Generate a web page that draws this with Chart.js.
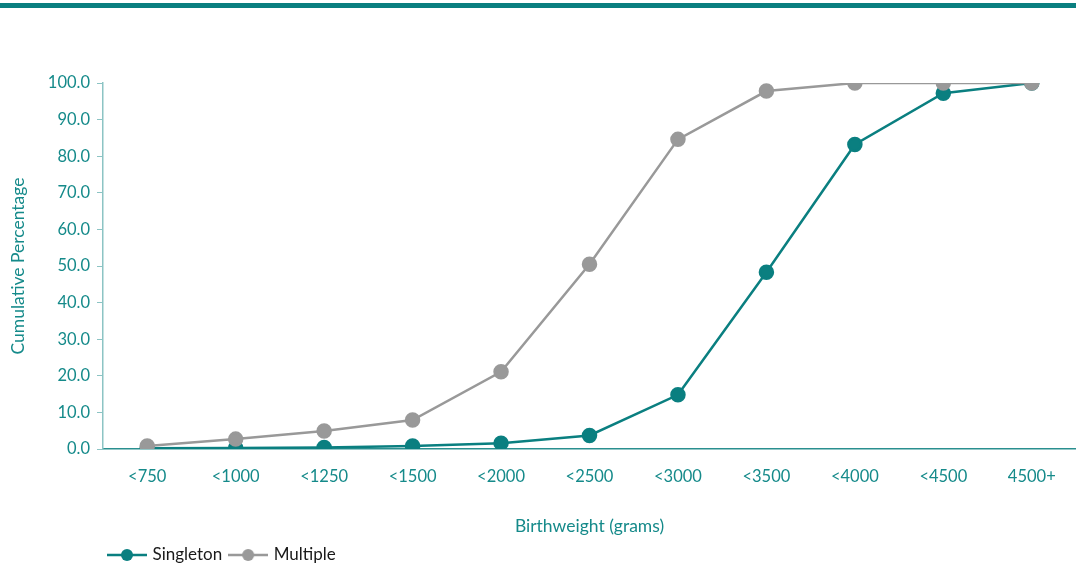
<!DOCTYPE html>
<html>
<head>
<meta charset="utf-8">
<script src="https://cdn.jsdelivr.net/npm/chart.js@4/dist/chart.umd.min.js"></script>
<style>
  html, body { margin: 0; padding: 0; background: #fff; }
  #wrap { position: relative; width: 1076px; height: 565px; }
  #topbar { position: absolute; left: 0; top: 3px; width: 1076px; height: 5px; background: #0a7f80; }
  canvas { position: absolute; left: 0; top: 0; }
</style>
</head>
<body>
<div id="wrap">
  <div id="topbar"></div>
  <canvas id="c" width="1076" height="565"></canvas>
</div>
<script>
const categories = ['<750', '<1000', '<1250', '<1500', '<2000', '<2500', '<3000', '<3500', '<4000', '<4500', '4500+'];
const singleton = [0.2, 0.3, 0.4, 0.8, 1.6, 3.7, 14.8, 48.3, 83.2, 97.2, 100.0];
const multiple = [0.8, 2.7, 4.9, 7.9, 21.1, 50.5, 84.6, 97.8, 100.0, 100.0, 100.0];
const yTicks = [0, 10, 20, 30, 40, 50, 60, 70, 80, 90, 100];

const TEAL = '#0a7f80';
const GREY = '#999999';
const LABEL = '#158a8a';
const FONT = 'Lato, "Open Sans", sans-serif';
const LEGEND_CENTER_Y = 555;

function legendIcon(color) {
  const cv = document.createElement('canvas');
  cv.width = 40; cv.height = 14;
  const g = cv.getContext('2d');
  g.strokeStyle = color; g.lineWidth = 2.5;
  g.beginPath(); g.moveTo(0, 7); g.lineTo(40, 7); g.stroke();
  g.fillStyle = color;
  g.beginPath(); g.arc(20, 7, 6, 0, Math.PI * 2); g.fill();
  return cv;
}

const shiftLegend = {
  id: 'shiftLegend',
  afterLayout(chart) {
    const lg = chart.legend;
    if (!lg) return;
    lg.left += 101; lg.right += 101;
    const pad = lg.options.labels.padding;
    const fs = lg.options.labels.font.size;
    const dy = LEGEND_CENTER_Y - (lg.top + pad + fs / 2);
    lg.top += dy; lg.bottom += dy;
  }
};

new Chart(document.getElementById('c'), {
  type: 'line',
  data: {
    labels: categories,
    datasets: [
      { label: 'Singleton', data: singleton, borderColor: TEAL, backgroundColor: TEAL,
        pointBackgroundColor: TEAL, pointBorderColor: TEAL, borderWidth: 2.5,
        pointRadius: 6.5, pointHoverRadius: 6.5, tension: 0, order: 2, pointStyle: 'circle' },
      { label: 'Multiple', data: multiple, borderColor: GREY, backgroundColor: GREY,
        pointBackgroundColor: GREY, pointBorderColor: GREY, borderWidth: 2.5,
        pointRadius: 6.5, pointHoverRadius: 6.5, tension: 0, order: 1, pointStyle: 'circle' }
    ]
  },
  options: {
    responsive: false,
    animation: false,
    layout: { autoPadding: false, padding: { top: 83, right: 0, bottom: 2, left: 0 } },
    plugins: {
      tooltip: { enabled: false },
      legend: {
        position: 'bottom',
        align: 'start',
        labels: {
          usePointStyle: true,
          pointStyleWidth: 34,
          boxWidth: 34,
          padding: 9,
          color: '#1a1a1a',
          font: { family: FONT, size: 17 },
          generateLabels(chart) {
            return chart.data.datasets.map((ds, i) => ({
              text: ds.label,
              pointStyle: legendIcon(ds.borderColor),
              fillStyle: ds.borderColor,
              strokeStyle: ds.borderColor,
              lineWidth: 0,
              hidden: false,
              datasetIndex: i,
              fontColor: '#1a1a1a'
            }));
          }
        }
      }
    },
    scales: {
      x: {
        offset: true,
        grid: { display: false, drawTicks: false },
        border: { display: true, color: '#2a8f8f', width: 1.5 },
        ticks: { color: LABEL, font: { family: FONT, size: 16.5 }, padding: 18, maxRotation: 0, autoSkip: false },
        title: { display: true, text: 'Birthweight (grams)', color: LABEL, font: { family: FONT, size: 17.5 }, padding: { top: 0, bottom: -9.5 } },
        afterFit(scale) { scale.height = 78; scale.paddingLeft = 0; scale.paddingRight = 0; }
      },
      y: {
        min: 0, max: 100,
        afterBuildTicks(scale) { scale.ticks = yTicks.map(v => ({ value: v })); },
        grid: { drawOnChartArea: false, drawTicks: true, tickLength: 6, color: '#8cc4c4' },
        border: { display: true, color: '#8cc4c4', width: 1.5 },
        ticks: { color: LABEL, font: { family: FONT, size: 16.5 }, padding: 7,
          callback: v => Number(v).toFixed(1) },
        title: { display: true, text: 'Cumulative Percentage', color: LABEL, font: { family: FONT, size: 17.5 }, padding: { top: 7.5, bottom: 4 } },
        afterFit(scale) { scale.width = 103; }
      }
    }
  },
  plugins: [shiftLegend]
});
</script>
</body>
</html>
